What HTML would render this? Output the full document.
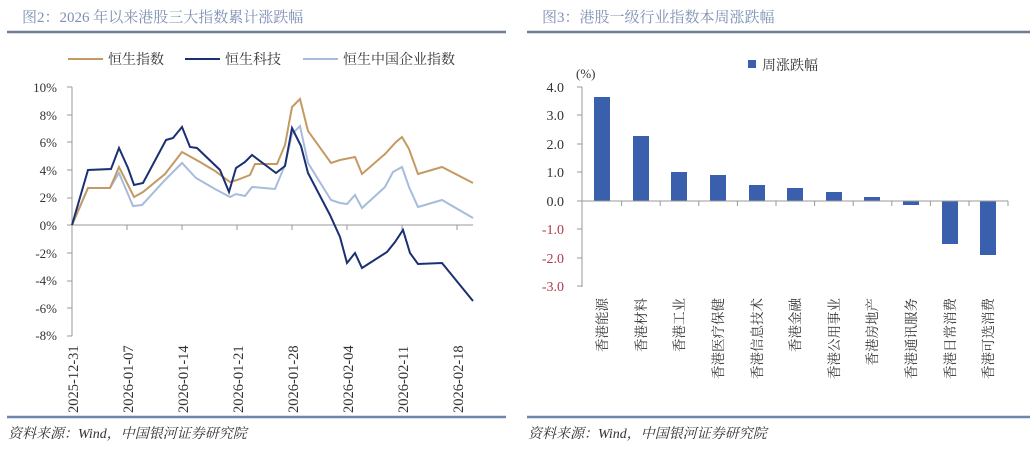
<!DOCTYPE html>
<html><head><meta charset="utf-8"><style>
body{margin:0;background:#fff;width:1036px;height:445px;overflow:hidden}
svg text{font-family:"Liberation Serif","Noto Serif CJK SC",serif}
</style></head><body>
<svg width="1036" height="445" viewBox="0 0 1036 445" xmlns="http://www.w3.org/2000/svg">
<text x="22" y="22" font-size="15" fill="#7d90b2">图2：2026 年以来港股三大指数累计涨跌幅</text>
<text x="542" y="22" font-size="15" fill="#7d90b2">图3：港股一级行业指数本周涨跌幅</text>
<line x1="7" y1="32" x2="506" y2="32" stroke="#6d7f94" stroke-width="2.5"/>
<line x1="527" y1="32" x2="1030" y2="32" stroke="#6d7f94" stroke-width="2.5"/>
<line x1="7" y1="417" x2="506" y2="417" stroke="#6d86ad" stroke-width="2.5"/>
<line x1="527" y1="417" x2="1030" y2="417" stroke="#6d86ad" stroke-width="2.5"/>
<text x="8" y="438" font-size="14" font-style="italic" fill="#333">资料来源：Wind，中国银河证券研究院</text>
<text x="528" y="438" font-size="14" font-style="italic" fill="#333">资料来源：Wind，中国银河证券研究院</text>

<line x1="68" y1="59" x2="103" y2="59" stroke="#c49a62" stroke-width="2"/>
<text x="108" y="64" font-size="14" fill="#333">恒生指数</text>
<line x1="185" y1="59" x2="220" y2="59" stroke="#1b2f73" stroke-width="2"/>
<text x="225" y="64" font-size="14" fill="#333">恒生科技</text>
<line x1="303" y1="59" x2="338" y2="59" stroke="#a6bcdd" stroke-width="2"/>
<text x="343" y="64" font-size="14" fill="#333">恒生中国企业指数</text>

<g font-size="13" fill="#333" text-anchor="end">
<text x="57" y="92">10%</text><text x="57" y="120">8%</text><text x="57" y="147">6%</text><text x="57" y="175">4%</text><text x="57" y="202">2%</text><text x="57" y="230">0%</text><text x="57" y="258">-2%</text><text x="57" y="285">-4%</text><text x="57" y="313">-6%</text><text x="57" y="340">-8%</text>
</g>
<g stroke="#999" stroke-width="1">
<line x1="72" y1="87" x2="72" y2="336"/>
<line x1="67" y1="87" x2="72" y2="87"/><line x1="67" y1="115" x2="72" y2="115"/><line x1="67" y1="142" x2="72" y2="142"/><line x1="67" y1="170" x2="72" y2="170"/><line x1="67" y1="198" x2="72" y2="198"/><line x1="67" y1="225" x2="72" y2="225"/><line x1="67" y1="253" x2="72" y2="253"/><line x1="67" y1="281" x2="72" y2="281"/><line x1="67" y1="308" x2="72" y2="308"/><line x1="67" y1="336" x2="72" y2="336"/>
<line x1="72" y1="225" x2="473" y2="225"/>
<line x1="127" y1="225" x2="127" y2="230"/><line x1="182" y1="225" x2="182" y2="230"/><line x1="237" y1="225" x2="237" y2="230"/><line x1="292" y1="225" x2="292" y2="230"/><line x1="347" y1="225" x2="347" y2="230"/><line x1="402" y1="225" x2="402" y2="230"/><line x1="457" y1="225" x2="457" y2="230"/>
</g>
<g font-size="14.5" fill="#333">
<text transform="translate(78,413) rotate(-90)">2025-12-31</text>
<text transform="translate(133,413) rotate(-90)">2026-01-07</text>
<text transform="translate(188,413) rotate(-90)">2026-01-14</text>
<text transform="translate(243,413) rotate(-90)">2026-01-21</text>
<text transform="translate(298,413) rotate(-90)">2026-01-28</text>
<text transform="translate(353,413) rotate(-90)">2026-02-04</text>
<text transform="translate(408,413) rotate(-90)">2026-02-11</text>
<text transform="translate(463,413) rotate(-90)">2026-02-18</text>
</g>
<polyline fill="none" stroke="#a6bcdd" stroke-width="2" points="72,225 88,188 110,188 119,173 133,206 142,205 165,180 182,163 196,178 215,189 230,197 236,194 245,196 252,187 275,189 285,165 292,134 300,126 308,163 331,200 340,203 347,204 355,195 362,208 385,187 393,172 402,167 409,187 418,207 442,200 473,218"/>
<polyline fill="none" stroke="#c49a62" stroke-width="2" points="72,225 88,188 110,188 119,167 134,197 143,192 165,174 182,152 200,162 215,171 230,182 237,180 250,175 255,164 277,164 285,145 292,107 300,99 308,131 331,163 340,160 355,157 362,174 385,154 396,142 402,137 409,149 418,174 442,167 473,183"/>
<polyline fill="none" stroke="#1b2f73" stroke-width="2" points="72,225 88,170 111,169 119,148 128,168 134,185 143,183 166,140 173,138 182,127 190,147 197,148 220,170 229,192 236,168 245,162 252,155 276,173 285,166 292,128 301,146 308,173 330,215 340,237 347,263 355,253 362,268 387,252 395,242 403,230 410,253 418,264 442,263 473,301"/>

<rect x="748" y="60" width="8" height="8" fill="#3a5fad"/>
<text x="762" y="70" font-size="14" fill="#333">周涨跌幅</text>
<text x="576" y="78" font-size="13" fill="#333">(%)</text>
<g font-size="14" text-anchor="end">
<text x="564" y="92" fill="#333">4.0</text><text x="564" y="120" fill="#333">3.0</text><text x="564" y="149" fill="#333">2.0</text><text x="564" y="177" fill="#333">1.0</text><text x="564" y="206" fill="#333">0.0</text>
<text x="564" y="234" fill="#b03a4a">-1.0</text><text x="564" y="263" fill="#b03a4a">-2.0</text><text x="564" y="291" fill="#b03a4a">-3.0</text>
</g>
<g stroke="#999" stroke-width="1">
<line x1="582" y1="87" x2="582" y2="287"/>
<line x1="577" y1="87" x2="582" y2="87"/><line x1="577" y1="115" x2="582" y2="115"/><line x1="577" y1="144" x2="582" y2="144"/><line x1="577" y1="172" x2="582" y2="172"/><line x1="577" y1="201" x2="582" y2="201"/><line x1="577" y1="229" x2="582" y2="229"/><line x1="577" y1="258" x2="582" y2="258"/><line x1="577" y1="286" x2="582" y2="286"/>
</g>
<g fill="#3a5fad">
<rect x="594" y="97" width="16" height="104"/>
<rect x="633" y="136" width="16" height="65"/>
<rect x="671" y="172" width="16" height="29"/>
<rect x="710" y="175" width="16" height="26"/>
<rect x="749" y="185" width="16" height="16"/>
<rect x="787" y="188" width="16" height="13"/>
<rect x="826" y="192" width="16" height="9"/>
<rect x="864" y="197" width="16" height="4"/>
<rect x="903" y="201" width="16" height="4"/>
<rect x="942" y="201" width="16" height="43"/>
<rect x="980" y="201" width="16" height="54"/>
</g>
<g stroke="#999" stroke-width="1">
<line x1="582" y1="201" x2="1008" y2="201"/>
<line x1="621.6" y1="201" x2="621.6" y2="206"/><line x1="660.2" y1="201" x2="660.2" y2="206"/><line x1="698.8" y1="201" x2="698.8" y2="206"/><line x1="737.4" y1="201" x2="737.4" y2="206"/><line x1="776" y1="201" x2="776" y2="206"/><line x1="814.6" y1="201" x2="814.6" y2="206"/><line x1="853.2" y1="201" x2="853.2" y2="206"/><line x1="891.8" y1="201" x2="891.8" y2="206"/><line x1="930.4" y1="201" x2="930.4" y2="206"/><line x1="969" y1="201" x2="969" y2="206"/><line x1="1008" y1="201" x2="1008" y2="206"/>
</g>
<g font-size="13.5" fill="#333" text-anchor="end">
<text transform="translate(607,298) rotate(-90)">香港能源</text>
<text transform="translate(646,298) rotate(-90)">香港材料</text>
<text transform="translate(684,298) rotate(-90)">香港工业</text>
<text transform="translate(723,298) rotate(-90)">香港医疗保健</text>
<text transform="translate(762,298) rotate(-90)">香港信息技术</text>
<text transform="translate(800,298) rotate(-90)">香港金融</text>
<text transform="translate(839,298) rotate(-90)">香港公用事业</text>
<text transform="translate(877,298) rotate(-90)">香港房地产</text>
<text transform="translate(916,298) rotate(-90)">香港通讯服务</text>
<text transform="translate(955,298) rotate(-90)">香港日常消费</text>
<text transform="translate(993,298) rotate(-90)">香港可选消费</text>
</g>
</svg>
</body></html>
